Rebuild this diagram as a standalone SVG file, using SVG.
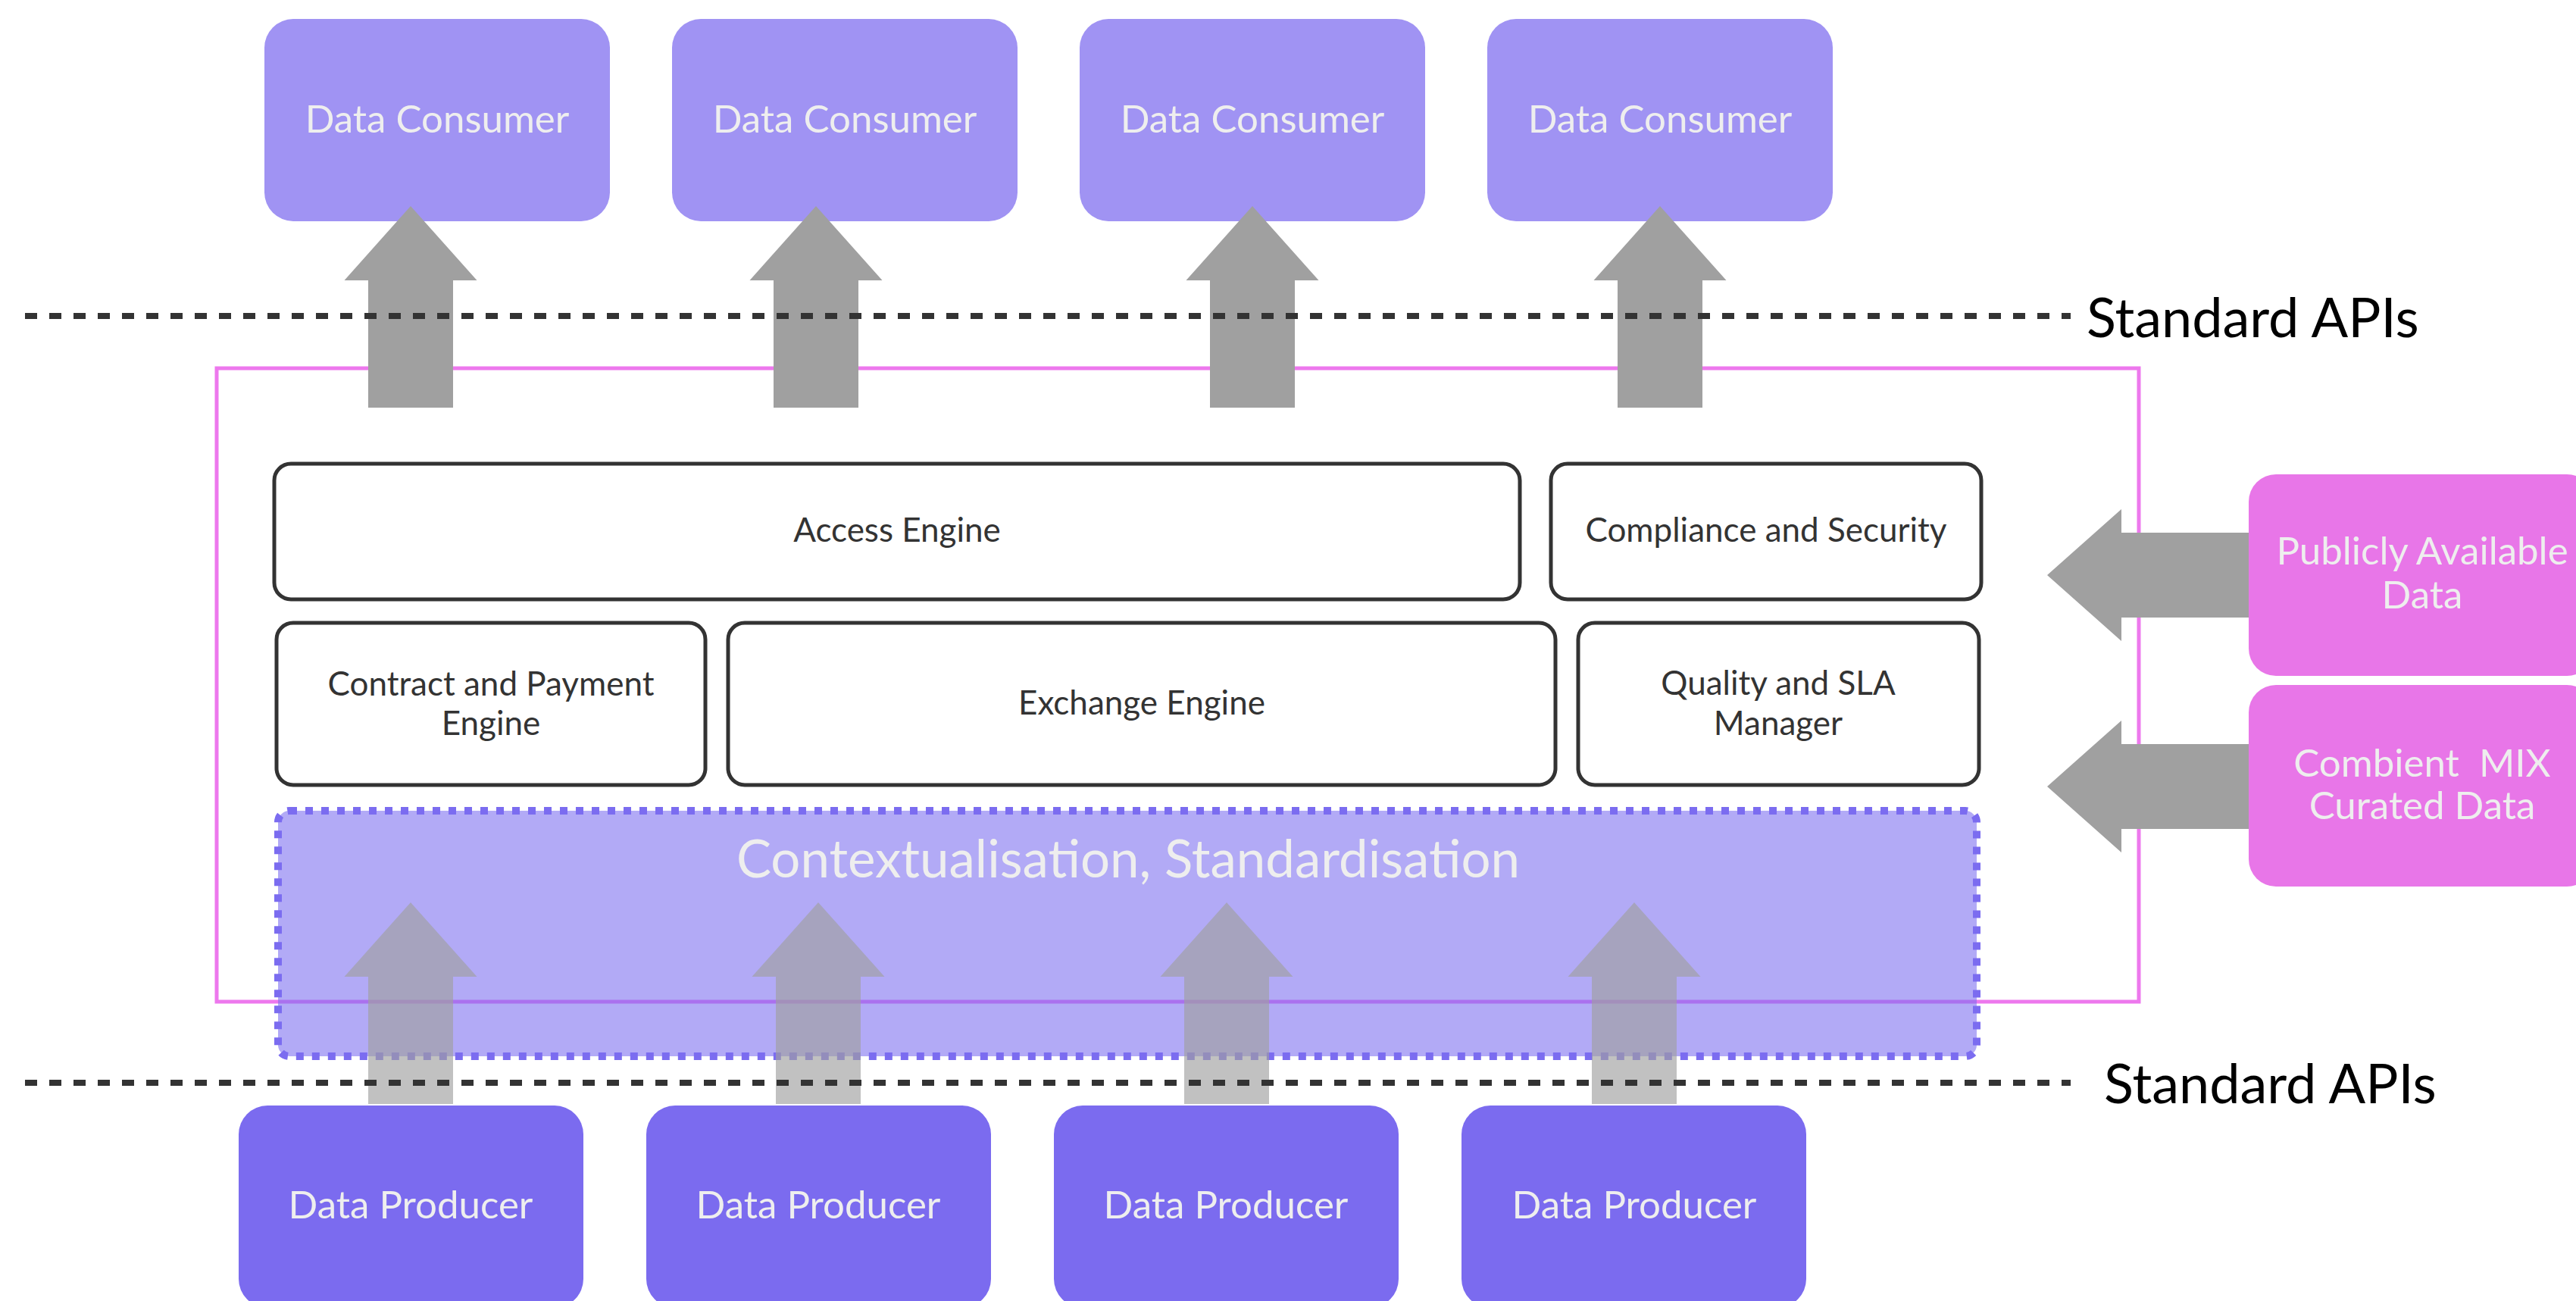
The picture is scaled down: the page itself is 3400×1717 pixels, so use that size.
<svg xmlns="http://www.w3.org/2000/svg" width="3400" height="1717" viewBox="0 0 3400 1717">
  <style>
    .consumer { fill: #a093f3; }
    .producer { fill: #7b6bef; }
    .source { fill: #e876e8; }
    .engine { fill: #ffffff; stroke: #333333; stroke-width: 5; }
    .light { font-family: Lato, "Open Sans", sans-serif; fill: #eeeeee; text-anchor: middle; }
    .dark { font-family: Lato, "Open Sans", sans-serif; fill: #333333; text-anchor: middle; font-size: 44px; }
    .big { font-size: 51px; }
    .api { font-family: Lato, "Open Sans", sans-serif; fill: #000000; font-size: 72px; }
    .arrow { fill: #a0a0a0; }
    .arrow-soft { fill: #a0a0a0; opacity: 0.65; }
    .api-line { stroke: #333333; stroke-width: 8; stroke-dasharray: 16 16; fill: none; }
  </style>
  <defs>
    <!-- block arrow pointing up, tip at origin -->
    <polygon id="up" points="0,0 87.5,98 56,98 56,266 -56,266 -56,98 -87.5,98"/>
    <!-- block arrow pointing left, tip at origin -->
    <polygon id="left" points="0,0 98,-87 98,-56 280,-56 280,56 98,56 98,87"/>
  </defs>

  <rect width="3400" height="1717" fill="#ffffff"/>

  <!-- platform frame -->
  <rect id="platform" x="286" y="486" width="2537" height="836" fill="none" stroke="#ed78ed" stroke-width="5"/>

  <!-- engines -->
  <g id="access-engine">
    <rect class="engine" x="362" y="612" width="1644" height="179" rx="22"/>
    <text class="dark" x="1184" y="715">Access Engine</text>
  </g>
  <g id="compliance-security">
    <rect class="engine" x="2047" y="612" width="568" height="179" rx="22"/>
    <text class="dark" x="2331" y="715">Compliance and Security</text>
  </g>
  <g id="contract-payment">
    <rect class="engine" x="365" y="822" width="566" height="214" rx="22"/>
    <text class="dark" x="648" y="918">Contract and Payment</text>
    <text class="dark" x="648" y="970">Engine</text>
  </g>
  <g id="exchange-engine">
    <rect class="engine" x="961" y="822" width="1092" height="214" rx="22"/>
    <text class="dark" x="1507" y="943">Exchange Engine</text>
  </g>
  <g id="quality-sla">
    <rect class="engine" x="2083" y="822" width="529" height="214" rx="22"/>
    <text class="dark" x="2347" y="917">Quality and SLA</text>
    <text class="dark" x="2347" y="970">Manager</text>
  </g>

  <!-- contextualisation layer -->
  <g id="contextualisation">
    <rect x="367" y="1070" width="2242" height="324" rx="15" fill="#7b6cf0" fill-opacity="0.58" stroke="#7b6cf0" stroke-width="10" stroke-dasharray="10 11"/>
    <text class="light" x="1489" y="1158" font-size="69">Contextualisation, Standardisation</text>
  </g>

  <!-- consumers -->
  <g id="consumer-1">
    <rect class="consumer" x="349" y="25" width="456" height="267" rx="38"/>
    <text class="light big" x="577" y="175">Data Consumer</text>
  </g>
  <g id="consumer-2">
    <rect class="consumer" x="887" y="25" width="456" height="267" rx="38"/>
    <text class="light big" x="1115" y="175">Data Consumer</text>
  </g>
  <g id="consumer-3">
    <rect class="consumer" x="1425" y="25" width="456" height="267" rx="38"/>
    <text class="light big" x="1653" y="175">Data Consumer</text>
  </g>
  <g id="consumer-4">
    <rect class="consumer" x="1963" y="25" width="456" height="267" rx="38"/>
    <text class="light big" x="2191" y="175">Data Consumer</text>
  </g>

  <!-- producers -->
  <g id="producer-1">
    <rect class="producer" x="315" y="1459" width="455" height="267" rx="38"/>
    <text class="light big" x="542" y="1608">Data Producer</text>
  </g>
  <g id="producer-2">
    <rect class="producer" x="853" y="1459" width="455" height="267" rx="38"/>
    <text class="light big" x="1080" y="1608">Data Producer</text>
  </g>
  <g id="producer-3">
    <rect class="producer" x="1391" y="1459" width="455" height="267" rx="38"/>
    <text class="light big" x="1618" y="1608">Data Producer</text>
  </g>
  <g id="producer-4">
    <rect class="producer" x="1929" y="1459" width="455" height="267" rx="38"/>
    <text class="light big" x="2157" y="1608">Data Producer</text>
  </g>

  <!-- connectors -->
  <g id="connectors">
    <use href="#up" class="arrow" x="542" y="272"/>
    <use href="#up" class="arrow" x="1077" y="272"/>
    <use href="#up" class="arrow" x="1653" y="272"/>
    <use href="#up" class="arrow" x="2191" y="272"/>
    <use href="#up" class="arrow-soft" x="542" y="1191"/>
    <use href="#up" class="arrow-soft" x="1080" y="1191"/>
    <use href="#up" class="arrow-soft" x="1619" y="1191"/>
    <use href="#up" class="arrow-soft" x="2157" y="1191"/>
    <use href="#left" class="arrow" x="2702" y="759"/>
    <use href="#left" class="arrow" x="2702" y="1038"/>
  </g>

  <!-- external sources -->
  <g id="public-data">
    <rect class="source" x="2968" y="626" width="456" height="266" rx="36"/>
    <text class="light big" x="3197" y="745">Publicly Available</text>
    <text class="light big" x="3197" y="803">Data</text>
  </g>
  <g id="curated-data">
    <rect class="source" x="2968" y="904" width="456" height="266" rx="36"/>
    <text class="light big" x="3197" y="1025" xml:space="preserve">Combient  MIX</text>
    <text class="light big" x="3197" y="1081">Curated Data</text>
  </g>

  <!-- API boundaries -->
  <g id="api-boundaries">
    <line class="api-line" x1="33" y1="417" x2="2733" y2="417"/>
    <line class="api-line" x1="33" y1="1429" x2="2733" y2="1429"/>
    <text class="api" x="2754" y="445">Standard APIs</text>
    <text class="api" x="2777" y="1456">Standard APIs</text>
  </g>
</svg>
